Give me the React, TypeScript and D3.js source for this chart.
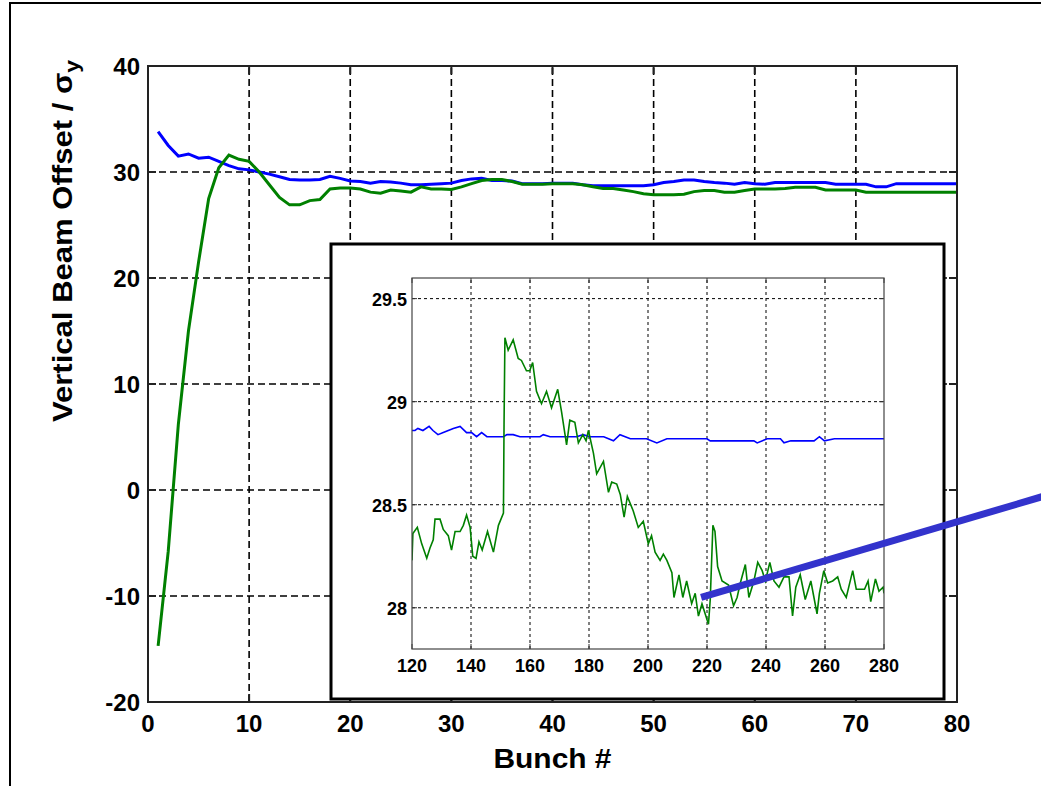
import React from "react";
import * as d3 from "d3";

// ---- Main plot data (bunch 1..80) ----
const mainTicksX = [0, 10, 20, 30, 40, 50, 60, 70, 80];
const mainTicksY = [-20, -10, 0, 10, 20, 30, 40];

const mainBlue = [
  33.8, 32.5, 31.5, 31.7, 31.3, 31.4, 31.0, 30.6, 30.3, 30.2,
  30.0, 29.8, 29.55, 29.3, 29.25, 29.25, 29.3, 29.6, 29.4, 29.15,
  29.1, 28.95, 29.1, 29.05, 28.95, 28.8, 28.8, 28.85, 28.9, 28.95,
  29.2, 29.35, 29.4, 29.2, 29.2, 29.15, 28.9, 28.9, 28.9, 28.95,
  28.95, 28.95, 28.8, 28.7, 28.7, 28.7, 28.7, 28.7, 28.7, 28.8,
  29.0, 29.1, 29.25, 29.25, 29.1, 29.0, 28.95, 28.85, 29.0, 28.9,
  28.85, 29.0, 29.0, 29.0, 29.0, 29.0, 29.0, 28.85, 28.85, 28.85,
  28.85, 28.6, 28.6, 28.9, 28.9, 28.9, 28.9, 28.9, 28.9, 28.9,
];

const mainGreen = [
  -14.7, -5.8, 6.2, 15.0, 21.5, 27.5, 30.4, 31.6, 31.2, 31.0,
  30.0, 28.8, 27.6, 26.9, 26.9, 27.3, 27.4, 28.4, 28.5, 28.5,
  28.4, 28.1, 28.0, 28.3, 28.2, 28.1, 28.6, 28.4, 28.4, 28.35,
  28.6, 28.9, 29.2, 29.3, 29.3, 29.1, 28.85, 28.85, 28.85, 28.9,
  28.9, 28.9, 28.8, 28.6, 28.45, 28.45, 28.3, 28.15, 27.95, 27.85,
  27.85, 27.85, 27.9, 28.15, 28.25, 28.25, 28.1, 28.1, 28.25, 28.4,
  28.4, 28.4, 28.45, 28.55, 28.55, 28.55, 28.3, 28.3, 28.3, 28.3,
  28.1, 28.1, 28.1, 28.1, 28.1, 28.1, 28.1, 28.1, 28.1, 28.1,
];

// ---- Inset data (bunch 120..280) ----
const insetTicksX = [120, 140, 160, 180, 200, 220, 240, 260, 280];
const insetTicksY = [28, 28.5, 29, 29.5];
const insetTickLabelsY = ["28", "28.5", "29", "29.5"];

const insetGreenX = [
  120, 120.3, 121.8, 123.3, 125, 126.1, 127.2, 127.8, 129.5, 130.6, 132.3, 133.4,
  134.6, 136.3, 137.4, 138.5, 139.7, 140.6, 141.7, 142.7, 143.8, 145.6, 147.6, 149.3,
  151, 151.2, 151.5, 152.6, 154.3, 156, 157.1, 158.8, 159.9, 160.9, 162.2, 163.9,
  165.6, 167.3, 169.4, 170.7, 172.4, 173.5, 175.2, 176.4, 177.9, 179, 179.8, 181.5,
  182.6, 184.9, 186.6, 187.7, 189.4, 190.6, 191.9, 193, 195, 196.7, 198.4, 200.1,
  201.2, 202.4, 204.1, 205.2, 206.4, 208.1, 208.8, 210.5, 211.8, 213.1, 214.8, 216,
  217.1, 218.3, 219.4, 220.5, 221.1, 222, 222.7, 223.6, 225.1, 227.3, 229, 230.2,
  231.3, 233, 234.2, 235.9, 237.2, 238.7, 239.8, 241.3, 242.7, 244.4, 246.1, 247.8,
  249, 250.1, 251.6, 253.3, 255.2, 257.3, 258.1, 259.6, 260.9, 262.6, 264.3, 265.5,
  267.2, 269.4, 270.6, 273.4, 274.6, 275.5, 277.1, 278.3, 279.7, 280,
];
const insetGreenY = [
  28.23, 28.36, 28.39, 28.31, 28.24, 28.29, 28.33, 28.43, 28.43, 28.38, 28.35, 28.28,
  28.37, 28.37, 28.4, 28.45, 28.39, 28.25, 28.24, 28.32, 28.28, 28.37, 28.27, 28.4,
  28.46, 28.89, 29.31, 29.25, 29.3, 29.21, 29.2, 29.15, 29.15, 29.19, 29.05, 28.99,
  29.05, 28.97, 29.06, 28.95, 28.79, 28.91, 28.9, 28.8, 28.84, 28.81, 28.86, 28.75,
  28.65, 28.71, 28.56, 28.61, 28.6, 28.55, 28.44, 28.54, 28.47, 28.39, 28.42, 28.31,
  28.35, 28.27, 28.23, 28.26, 28.23, 28.17, 28.05, 28.16, 28.05, 28.13, 28.02, 28.07,
  27.96, 28.02, 27.97, 27.92, 28.04, 28.4, 28.37, 28.2, 28.13, 28.11, 28.01, 28.05,
  28.12, 28.21, 28.05, 28.13, 28.22, 28.18, 28.13, 28.22, 28.13, 28.1, 28.15, 28.15,
  27.96, 28.1, 28.16, 28.04, 28.13, 27.97, 28.07, 28.18, 28.12, 28.13, 28.15, 28.09,
  28.05, 28.18, 28.09, 28.09, 28.13, 28.03, 28.14, 28.08, 28.1, 28.07,
];

const insetBlueX = [
  120, 121, 122, 123.7, 125.8, 127.1, 128.8, 130.6, 132.3, 134, 136.3, 138.5,
  140.2, 141.9, 143.6, 145.4, 148, 151, 152.2, 154.3, 156.6, 160, 163.4, 164.5,
  166.8, 171.3, 175.8, 178, 180.3, 185, 188.3, 190.5, 194, 199.5, 203, 206.4,
  212, 217.7, 220, 221.1, 224.5, 230, 235.9, 237, 240.4, 244.9, 246.1, 248.4,
  252, 256.3, 258.1, 259.8, 263.2, 270, 275, 280,
];
const insetBlueY = [
  28.86, 28.86, 28.87, 28.86, 28.88, 28.86, 28.84, 28.85, 28.86, 28.87, 28.88, 28.85,
  28.85, 28.83, 28.85, 28.83, 28.83, 28.83, 28.84, 28.84, 28.83, 28.83, 28.83, 28.84,
  28.83, 28.83, 28.83, 28.84, 28.83, 28.83, 28.81, 28.84, 28.82, 28.82, 28.8, 28.82,
  28.82, 28.82, 28.82, 28.81, 28.81, 28.81, 28.81, 28.8, 28.82, 28.82, 28.8, 28.81,
  28.81, 28.81, 28.83, 28.81, 28.82, 28.82, 28.82, 28.82,
];

// annotation pointer, in inset data coordinates
const pointerX = [218, 335];
const pointerY = [28.05, 28.545];

const FONT = "'Liberation Sans', Arial, Helvetica, sans-serif";

export default function App() {
  const W = 1041;
  const H = 786;

  const xMain = d3.scaleLinear().domain([0, 80]).range([148, 957]);
  const yMain = d3.scaleLinear().domain([-20, 40]).range([702, 66]);

  const xIn = d3.scaleLinear().domain([120, 280]).range([412, 884]);
  const yIn = d3.scaleLinear().domain([27.8, 29.6]).range([649, 278]);

  const mainLine = d3
    .line<number>()
    .x((_, i) => xMain(i + 1))
    .y((d) => yMain(d));

  const insetLine = (xs: number[], ys: number[]) =>
    d3
      .line<number>()
      .x((d) => xIn(d))
      .y((_, i) => yIn(ys[i]))(xs) as string;

  const [mx0, mx1] = xMain.range();
  const [my0, my1] = yMain.range(); // my0 bottom, my1 top
  const [ix0, ix1] = xIn.range();
  const [iy0, iy1] = yIn.range();

  const tickLen = 8;
  const inTick = 5;

  return (
    <svg
      width={W}
      height={H}
      style={{ position: "absolute", left: 0, top: 0, background: "#fff" }}
      fontFamily={FONT}
    >
      <defs>
        <clipPath id="mainClip">
          <rect x={mx0} y={my1} width={mx1 - mx0} height={my0 - my1} />
        </clipPath>
        <clipPath id="insetClip">
          <rect x={ix0} y={iy1} width={ix1 - ix0} height={iy0 - iy1} />
        </clipPath>
      </defs>
      <rect x={0} y={0} width={W} height={H} fill="#fff" />
      {/* outer frame */}
      <rect x={10} y={3} width={1100} height={900} fill="none" stroke="#000" strokeWidth={2} />

      {/* main grid */}
      {mainTicksX.slice(1, -1).map((t) => (
        <line key={"gx" + t} x1={xMain(t)} x2={xMain(t)} y1={my0} y2={my1}
          stroke="#000" strokeWidth={1.6} strokeDasharray="7,4" />
      ))}
      {mainTicksY.slice(1, -1).map((t) => (
        <line key={"gy" + t} x1={mx0} x2={mx1} y1={yMain(t)} y2={yMain(t)}
          stroke="#000" strokeWidth={1.6} strokeDasharray="7,4" />
      ))}
      {/* main ticks */}
      {mainTicksX.map((t) => (
        <g key={"tx" + t}>
          <line x1={xMain(t)} x2={xMain(t)} y1={my0} y2={my0 - tickLen} stroke="#222" strokeWidth={2} />
          <line x1={xMain(t)} x2={xMain(t)} y1={my1} y2={my1 + tickLen} stroke="#222" strokeWidth={2} />
          <text x={xMain(t)} y={my0 + 30} textAnchor="middle" fontSize={24} fontWeight="bold" fill="#000">
            {t}
          </text>
        </g>
      ))}
      {mainTicksY.map((t) => (
        <g key={"ty" + t}>
          <line x1={mx0} x2={mx0 + tickLen} y1={yMain(t)} y2={yMain(t)} stroke="#222" strokeWidth={2} />
          <line x1={mx1} x2={mx1 - tickLen} y1={yMain(t)} y2={yMain(t)} stroke="#222" strokeWidth={2} />
          <text x={mx0 - 8} y={yMain(t) + 9} textAnchor="end" fontSize={24} fontWeight="bold" fill="#000">
            {t}
          </text>
        </g>
      ))}
      {/* main series */}
      <g clipPath="url(#mainClip)">
        <path d={mainLine(mainBlue) as string} fill="none" stroke="#0000ff" strokeWidth={3} />
        <path d={mainLine(mainGreen) as string} fill="none" stroke="#008000" strokeWidth={3} />
      </g>
      {/* main frame */}
      <rect x={mx0} y={my1} width={mx1 - mx0} height={my0 - my1} fill="none" stroke="#222" strokeWidth={2} />

      {/* axis labels */}
      <text x={(mx0 + mx1) / 2} y={768} textAnchor="middle" fontSize={28} fontWeight="bold"
        textLength={118} lengthAdjust="spacingAndGlyphs">
        Bunch #
      </text>
      <text transform="translate(72,241) rotate(-90)" textAnchor="middle" fontSize={27} fontWeight="bold"
        textLength={362} lengthAdjust="spacingAndGlyphs">
        Vertical Beam Offset / σ<tspan fontSize={20} dy={7}>y</tspan>
      </text>

      {/* inset box */}
      <rect x={331} y={244} width={613} height={455} fill="#fff" stroke="#000" strokeWidth={3} />
      {/* inset grid */}
      {insetTicksX.slice(1, -1).map((t) => (
        <line key={"igx" + t} x1={xIn(t)} x2={xIn(t)} y1={iy0} y2={iy1}
          stroke="#000" strokeWidth={1} strokeDasharray="3,3" />
      ))}
      {insetTicksY.map((t) => (
        <line key={"igy" + t} x1={ix0} x2={ix1} y1={yIn(t)} y2={yIn(t)}
          stroke="#000" strokeWidth={1} strokeDasharray="3,3" />
      ))}
      {insetTicksX.map((t) => (
        <g key={"itx" + t}>
          <line x1={xIn(t)} x2={xIn(t)} y1={iy0} y2={iy0 - inTick} stroke="#333" strokeWidth={1} />
          <line x1={xIn(t)} x2={xIn(t)} y1={iy1} y2={iy1 + inTick} stroke="#333" strokeWidth={1} />
          <text x={xIn(t)} y={iy0 + 23} textAnchor="middle" fontSize={18} fontWeight="bold" fill="#000">
            {t}
          </text>
        </g>
      ))}
      {insetTicksY.map((t, i) => (
        <g key={"ity" + t}>
          <line x1={ix0} x2={ix0 + inTick} y1={yIn(t)} y2={yIn(t)} stroke="#333" strokeWidth={1} />
          <line x1={ix1} x2={ix1 - inTick} y1={yIn(t)} y2={yIn(t)} stroke="#333" strokeWidth={1} />
          <text x={ix0 - 5} y={yIn(t) + 7} textAnchor="end" fontSize={18} fontWeight="bold" fill="#000">
            {insetTickLabelsY[i]}
          </text>
        </g>
      ))}
      <g clipPath="url(#insetClip)">
        <path d={insetLine(insetBlueX, insetBlueY)} fill="none" stroke="#0000ff" strokeWidth={1.6} />
        <path d={insetLine(insetGreenX, insetGreenY)} fill="none" stroke="#008000" strokeWidth={1.6} />
      </g>
      <rect x={ix0} y={iy1} width={ix1 - ix0} height={iy0 - iy1} fill="none" stroke="#444" strokeWidth={1.2} />

      {/* pointer line */}
      <line x1={xIn(pointerX[0])} y1={yIn(pointerY[0])} x2={xIn(pointerX[1])} y2={yIn(pointerY[1])}
        stroke="#3333cc" strokeWidth={7} />
    </svg>
  );
}
